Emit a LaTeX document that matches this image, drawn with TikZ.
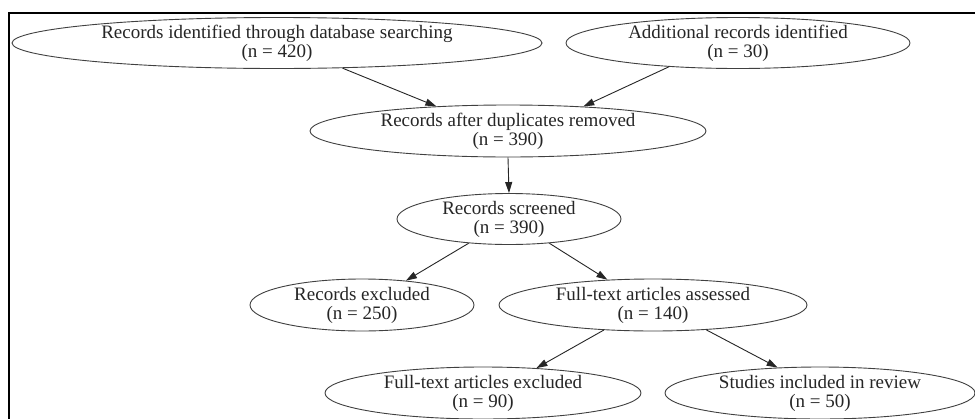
\documentclass[tikz,border=0pt]{standalone}
\usepackage{fontspec}
\setmainfont{Liberation Serif}
\usetikzlibrary{shapes.geometric,arrows.meta}
\begin{document}
\begin{tikzpicture}[x=1pt,y=-1pt,
  box/.style={ellipse, draw=black!75, line width=0.9pt, inner xsep=0pt, inner ysep=-4pt,
    align=center, font=\fontsize{19}{19}\selectfont, text=black!85},
  conn/.style={draw=black!85, line width=0.9pt, -{Triangle[length=11pt,width=7pt]}}]
\useasboundingbox (0,0) rectangle (975,418);
\fill[white] (0,0) rectangle (975,418);
\draw[line width=2pt] (9,419) -- (9,13) -- (976,13);
\node[box, minimum width=530pt, minimum height=51pt] (e1) at (277,43) {Records identified through database searching\\(n = 420)};
\node[box, minimum width=344pt, minimum height=51pt] (e2) at (738,43) {Additional records identified\\(n = 30)};
\node[box, minimum width=396pt, minimum height=52pt] (e3) at (508,131) {Records after duplicates removed\\(n = 390)};
\node[box, minimum width=224pt, minimum height=51pt] (e4) at (509,219) {Records screened\\(n = 390)};
\node[box, minimum width=224pt, minimum height=52pt] (e5) at (362,305) {Records excluded\\(n = 250)};
\node[box, minimum width=308pt, minimum height=52pt] (e6) at (653,305) {Full-text articles assessed\\(n = 140)};
\node[box, minimum width=316pt, minimum height=52pt] (e7) at (483,393) {Full-text articles excluded\\(n = 90)};
\node[box, minimum width=310pt, minimum height=52pt] (e8) at (820,393) {Studies included in review\\(n = 50)};
\draw[conn] (e1.339.9) -- (e3.161.1);
\draw[conn] (e2.199.6) -- (e3.18.6);
\draw[conn] (e3.south) -- (e4.north);
\draw[conn] (e4.211.6) -- (e5.29);
\draw[conn] (e4.329.7) -- (e6.151.6);
\draw[conn] (e6.207.2) -- (e7.25.8);
\draw[conn] (e6.335.7) -- (e8.149.8);
\end{tikzpicture}
\end{document}
